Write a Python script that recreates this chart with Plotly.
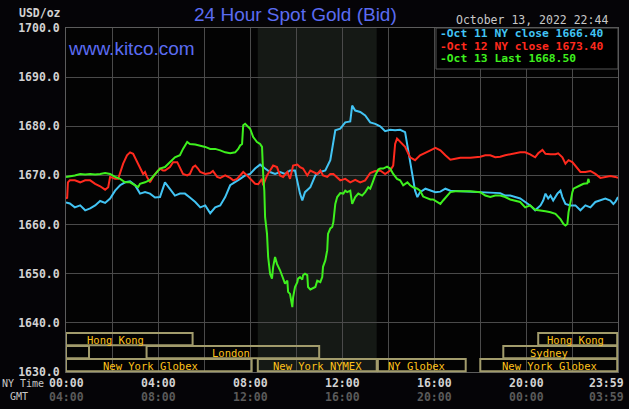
import plotly.graph_objects as go

# ---------------- data (minutes after 00:00 NY time, USD/oz) ----------------
oct11_t = [0, 10, 23, 37, 50, 63, 76, 89, 102, 115, 128, 141, 154, 167, 180, 193, 206, 219, 232, 245,
           258, 271, 284, 297, 310, 323, 337, 350, 363, 376, 389, 402, 415, 428, 441, 454, 467, 480, 493,
           506, 519, 532, 545, 558, 571, 584, 597, 610, 616, 623, 637, 650, 663, 676, 689, 697, 702, 715,
           728, 741, 746, 754, 767, 780, 793, 806, 819, 832, 845, 858, 871, 884, 892, 903, 910, 916, 923,
           937, 950, 963, 976, 989, 1002, 1028, 1054, 1080, 1106, 1132, 1145, 1158, 1171, 1184, 1197,
           1210, 1223, 1237, 1244, 1250, 1257, 1263, 1270, 1281, 1289, 1294, 1302, 1315, 1328, 1341,
           1354, 1367, 1380, 1393, 1406, 1419, 1427, 1432, 1439]
oct11_v = [1664.5, 1664.3, 1663.5, 1663.9, 1662.9, 1663.3, 1663.9, 1664.8, 1664.4, 1665.3, 1666.9, 1668.0,
           1668.6, 1668.8, 1668.0, 1666.3, 1666.6, 1666.3, 1665.5, 1665.6, 1668.6, 1667.3, 1665.9, 1666.3,
           1666.3, 1665.5, 1664.6, 1663.5, 1663.9, 1662.3, 1663.5, 1663.9, 1665.6, 1668.0, 1668.6, 1669.3,
           1670.0, 1670.3, 1671.4, 1672.2, 1671.4, 1670.7, 1670.3, 1670.7, 1670.3, 1671.0, 1671.0, 1666.3,
           1664.9, 1666.6, 1667.6, 1670.0, 1670.7, 1671.0, 1673.1, 1676.4, 1679.2, 1679.5, 1680.8, 1681.0,
           1684.2, 1683.2, 1682.9, 1682.2, 1680.8, 1680.5, 1680.0, 1679.0, 1679.3, 1679.2, 1679.3, 1678.8,
           1675.1, 1670.3, 1666.9, 1665.6, 1666.6, 1667.3, 1666.9, 1666.6, 1666.7, 1667.3, 1666.9, 1666.8,
           1666.8, 1666.6, 1666.6, 1666.4, 1665.9, 1665.9, 1665.6, 1665.3, 1664.6, 1663.9, 1662.9, 1663.9,
           1664.9, 1666.3, 1665.3, 1665.9, 1664.9, 1666.3, 1666.9, 1665.6, 1664.2, 1663.9, 1663.9, 1662.9,
           1663.9, 1663.5, 1664.6, 1664.9, 1665.3, 1664.9, 1664.2, 1664.6, 1665.6]

oct12_t = [0, 3, 5, 10, 23, 37, 50, 63, 76, 89, 102, 110, 115, 128, 136, 141, 149, 159, 167, 175, 185, 193,
           201, 206, 211, 219, 227, 237, 245, 253, 258, 271, 279, 290, 297, 305, 316, 323, 331, 337, 344,
           350, 363, 376, 383, 394, 402, 415, 428, 436, 446, 454, 462, 472, 480, 493, 501, 511, 514, 524,
           532, 540, 550, 558, 566, 577, 584, 592, 603, 610, 618, 629, 637, 644, 655, 663, 670, 681, 689,
           697, 707, 715, 728, 741, 754, 767, 780, 793, 806, 819, 832, 845, 853, 858, 863, 871, 884, 897,
           910, 923, 937, 950, 963, 976, 989, 1002, 1015, 1028, 1054, 1080, 1093, 1106, 1119, 1132, 1145,
           1158, 1171, 1184, 1197, 1210, 1223, 1231, 1242, 1250, 1263, 1276, 1283, 1294, 1302, 1310, 1320,
           1328, 1341, 1354, 1367, 1380, 1393, 1406, 1419, 1432, 1439]
oct12_v = [1665.6, 1665.3, 1668.6, 1669.0, 1669.0, 1668.6, 1669.0, 1669.0, 1668.3, 1667.8, 1667.1, 1667.6,
           1669.7, 1669.3, 1669.3, 1670.7, 1672.4, 1674.1, 1674.7, 1674.4, 1672.7, 1671.7, 1670.3, 1670.7,
           1669.7, 1668.6, 1669.7, 1670.7, 1671.4, 1671.0, 1671.0, 1671.7, 1672.7, 1672.7, 1671.4, 1670.3,
           1670.0, 1670.3, 1671.7, 1672.0, 1671.4, 1670.7, 1670.3, 1670.5, 1670.9, 1669.7, 1669.5, 1670.0,
           1669.5, 1669.0, 1669.3, 1670.0, 1670.7, 1670.0, 1669.3, 1668.3, 1668.2, 1669.3, 1668.0, 1670.0,
           1671.0, 1672.0, 1671.7, 1670.0, 1669.7, 1670.7, 1669.3, 1672.0, 1672.2, 1671.7, 1671.4, 1670.0,
           1671.0, 1670.7, 1670.3, 1671.0, 1670.0, 1669.7, 1670.3, 1670.3, 1669.5, 1669.0, 1669.3, 1668.6,
           1669.1, 1668.6, 1669.0, 1670.5, 1670.9, 1671.0, 1670.3, 1671.0, 1672.0, 1676.4, 1677.5, 1676.8,
           1675.8, 1673.7, 1673.1, 1674.1, 1674.7, 1675.1, 1675.6, 1675.1, 1674.1, 1673.2, 1673.4, 1673.6,
           1673.6, 1673.8, 1674.1, 1674.1, 1673.7, 1673.8, 1674.1, 1674.3, 1674.5, 1674.7, 1674.7, 1674.3,
           1673.7, 1674.5, 1675.2, 1674.4, 1674.3, 1674.3, 1674.5, 1673.7, 1672.4, 1673.1, 1672.7, 1672.0,
           1670.7, 1670.7, 1670.9, 1670.3, 1669.5, 1669.7, 1669.9, 1669.7, 1669.5]

oct13_t = [0, 10, 23, 37, 50, 63, 76, 89, 102, 115, 128, 141, 154, 167, 180, 188, 193, 206, 219, 232, 245,
           258, 271, 284, 297, 305, 316, 323, 337, 350, 363, 376, 389, 402, 415, 428, 441, 449, 454, 459,
           462, 467, 475, 480, 488, 498, 506, 511, 514, 517, 519, 524, 527, 532, 537, 540, 545, 550, 558,
           563, 566, 571, 577, 579, 584, 590, 592, 597, 603, 605, 610, 616, 618, 623, 629, 631, 637, 644,
           650, 655, 663, 668, 670, 676, 681, 683, 689, 694, 697, 702, 707, 715, 723, 728, 733, 741, 746,
           754, 762, 772, 780, 788, 793, 798, 806, 814, 819, 827, 837, 845, 853, 863, 871, 879, 890, 897,
           905, 916, 923, 931, 942, 950, 957, 968, 976, 983, 994, 1002, 1015, 1028, 1054, 1080, 1093, 1106,
           1119, 1132, 1145, 1158, 1171, 1184, 1197, 1210, 1223, 1237, 1250, 1263, 1276, 1289, 1297, 1302,
           1307, 1310, 1315, 1320, 1323, 1333, 1341, 1349, 1359, 1362, 1364]
oct13_v = [1669.7, 1669.8, 1670.0, 1670.3, 1670.2, 1670.3, 1670.2, 1670.3, 1670.5, 1670.3, 1669.7, 1669.3,
           1668.6, 1668.6, 1668.0, 1667.6, 1668.3, 1668.6, 1669.1, 1670.3, 1671.4, 1671.7, 1672.7, 1673.7,
           1674.1, 1675.4, 1676.8, 1676.4, 1676.3, 1676.1, 1675.8, 1675.4, 1675.4, 1675.1, 1674.7, 1674.5,
           1674.7, 1675.4, 1676.1, 1676.4, 1680.2, 1680.5, 1679.8, 1679.5, 1677.8, 1676.8, 1676.4, 1675.8,
           1670.3, 1666.9, 1661.5, 1658.1, 1653.4, 1650.0, 1649.0, 1651.4, 1653.4, 1652.0, 1650.7, 1649.7,
           1649.0, 1648.0, 1648.6, 1646.3, 1645.9, 1643.2, 1645.2, 1647.3, 1648.3, 1649.0, 1649.3, 1648.8,
           1649.7, 1650.0, 1649.7, 1647.3, 1646.8, 1647.0, 1647.3, 1648.6, 1648.3, 1649.3, 1651.4, 1652.7,
           1654.8, 1658.1, 1659.2, 1659.5, 1660.5, 1664.2, 1665.6, 1666.4, 1666.3, 1666.9, 1666.6, 1666.9,
           1664.2, 1665.6, 1666.3, 1665.9, 1666.6, 1667.6, 1667.3, 1668.3, 1670.0, 1671.2, 1671.4, 1671.4,
           1671.8, 1671.4, 1670.3, 1669.3, 1669.0, 1668.0, 1668.6, 1668.0, 1667.6, 1667.3, 1666.9, 1665.7,
           1665.3, 1665.1, 1665.1, 1664.6, 1664.2, 1664.9, 1665.9, 1666.6, 1666.8, 1666.8, 1666.8, 1666.6,
           1665.9, 1665.6, 1665.9, 1665.9, 1665.6, 1665.1, 1664.8, 1664.6, 1663.5, 1663.9, 1663.0, 1662.9,
           1662.7, 1662.5, 1662.2, 1661.1, 1660.1, 1659.8, 1660.1, 1662.5, 1664.9, 1666.6, 1667.3, 1667.6,
           1668.0, 1668.3, 1668.4, 1669.3, 1668.5]

series_names = ["Oct 11 NY close 1666.40", "Oct 12 NY close 1673.40", "Oct 13 Last 1668.50"]
series_colors = ["#42c4f4", "#ff2a1e", "#3ef01e"]

y_ticks = [1630, 1640, 1650, 1660, 1670, 1680, 1690, 1700]
x_tick_min = [0, 240, 480, 720, 960, 1200, 1439]
ny_labels = ["00:00", "04:00", "08:00", "12:00", "16:00", "20:00", "23:59"]
gmt_labels = ["04:00", "08:00", "12:00", "16:00", "20:00", "00:00", "03:59"]

# trading sessions: (label, start min, end min, row (0 = bottom), label centre min)
sessions = [
    ("Hong Kong", 0, 330, 2, 128),
    ("", 0, 60, 1, None),
    ("London", 210, 660, 1, 430),
    ("New York Globex", 0, 484, 0, 219),
    ("New York NYMEX", 500, 810, 0, 655),
    ("NY Globex", 813, 1042, 0, 913),
    ("New York Globex", 1080, 1437, 0, 1260),
    ("Sydney", 1140, 1437, 1, 1260),
    ("Hong Kong", 1231, 1437, 2, 1328),
]
nymex_window = (500, 810)

# ---------------- figure ----------------
PLOT_L, PLOT_T, PLOT_W, PLOT_H = 66, 28, 552, 344
MONO = "DejaVu Sans Mono"


def py(px_y):
    return (PLOT_T + PLOT_H - px_y) / PLOT_H


def px(px_x):
    return (px_x - PLOT_L) / PLOT_W


fig = go.Figure()
for t, v, c in zip([oct11_t, oct12_t, oct13_t], [oct11_v, oct12_v, oct13_v], series_colors):
    fig.add_trace(go.Scatter(x=t, y=v, mode="lines", line=dict(color=c, width=2),
                             hoverinfo="skip", showlegend=False))

shapes = []
shapes.append(dict(type="rect", xref="x", yref="paper", x0=nymex_window[0], x1=nymex_window[1],
                   y0=0, y1=1, fillcolor="#151915", line=dict(width=0), layer="below"))
row_h = 13 / PLOT_H
annotations = []
for name, s, e, row, cx in sessions:
    shapes.append(dict(type="rect", xref="x", yref="paper", x0=s, x1=e,
                       y0=row * row_h + 0.002, y1=(row + 1) * row_h,
                       line=dict(color="#a29c6c", width=2), fillcolor="rgba(0,0,0,0)", layer="above"))
    if name:
        annotations.append(dict(x=cx, y=(row + 0.5) * row_h, xref="x", yref="paper", text=name,
                                showarrow=False, font=dict(family=MONO, size=10.5, color="#ffc21a"),
                                xanchor="center", yanchor="middle"))

# legend box
shapes.append(dict(type="rect", xref="paper", yref="paper", x0=px(436), x1=1.0, y0=py(69), y1=1.0,
                   fillcolor="#000000", line=dict(color="#555555", width=1), layer="above"))
for i, (nm, c) in enumerate(zip(series_names, series_colors)):
    annotations.append(dict(x=px(439), y=py(33.8 + 12.5 * i), xref="paper", yref="paper",
                            text="-" + nm, showarrow=False, xanchor="left", yanchor="middle",
                            borderpad=0,
                            font=dict(family=MONO, size=11.3, color=c, weight="bold")))

# x tick labels (NY + GMT)
for m, a, b in zip(x_tick_min, ny_labels, gmt_labels):
    anchor = "right" if m == x_tick_min[-1] else "center"
    shift = 8 if m == x_tick_min[-1] else 0
    annotations.append(dict(x=m, y=py(383), xref="x", yref="paper", text=a, showarrow=False,
                            xanchor=anchor, yanchor="middle", xshift=shift,
                            font=dict(family=MONO, size=11.5, color="#d2d2d2", weight="bold")))
    annotations.append(dict(x=m, y=py(397), xref="x", yref="paper", text=b, showarrow=False,
                            xanchor=anchor, yanchor="middle", xshift=shift,
                            font=dict(family=MONO, size=11.5, color="#5a5a5a", weight="bold")))

annotations += [
    dict(x=px(1), y=py(383), xref="paper", yref="paper", text="NY Time", showarrow=False,
         xanchor="left", yanchor="middle", borderpad=0,
         font=dict(family=MONO, size=10, color="#c8c8c8")),
    dict(x=px(9), y=py(397), xref="paper", yref="paper", text="GMT", showarrow=False,
         xanchor="left", yanchor="middle", borderpad=0,
         font=dict(family=MONO, size=10, color="#c8c8c8")),
    dict(x=px(63), y=py(13), xref="paper", yref="paper", text="USD/oz", showarrow=False,
         xanchor="right", yanchor="middle",
         font=dict(family=MONO, size=11.5, color="#d2d2d2", weight="bold")),
    dict(x=px(295), y=py(15), xref="paper", yref="paper", text="24 Hour Spot Gold (Bid)",
         showarrow=False, xanchor="center", yanchor="middle",
         font=dict(family="Liberation Sans", size=19, color="#5b6cf2")),
    dict(x=px(66), y=py(48), xref="paper", yref="paper", text="www.kitco.com",
         showarrow=False, xanchor="left", yanchor="middle",
         font=dict(family="Liberation Sans", size=19, color="#5b6cf2")),
    dict(x=px(610), y=py(20), xref="paper", yref="paper", text="October 13, 2022 22:44",
         showarrow=False, xanchor="right", yanchor="middle",
         font=dict(family=MONO, size=11.5, color="#c8c8c8")),
]

fig.update_layout(
    width=629, height=409, autosize=False,
    margin=dict(l=PLOT_L, r=629 - PLOT_L - PLOT_W, t=PLOT_T, b=409 - PLOT_T - PLOT_H, pad=0),
    paper_bgcolor="#050407", plot_bgcolor="#030303",
    shapes=shapes, annotations=annotations, showlegend=False,
    xaxis=dict(range=[0, 1439], tickmode="array", tickvals=list(range(0, 1441, 120)),
               showticklabels=False, showgrid=True, gridcolor="#4a4a4a", gridwidth=1,
               zeroline=False, showline=True, linecolor="#5c5c5c", mirror=True, ticks=""),
    yaxis=dict(range=[1630, 1700], tickmode="array", tickvals=y_ticks,
               ticktext=[f"{v:.1f}" for v in y_ticks], showgrid=True, gridcolor="#4a4a4a",
               gridwidth=1, zeroline=False, showline=True, linecolor="#5c5c5c", mirror=True,
               ticks="", ticklabelstandoff=3,
               tickfont=dict(family=MONO, size=11.5, color="#d2d2d2", weight="bold")),
)

fig.write_html("out.html")
